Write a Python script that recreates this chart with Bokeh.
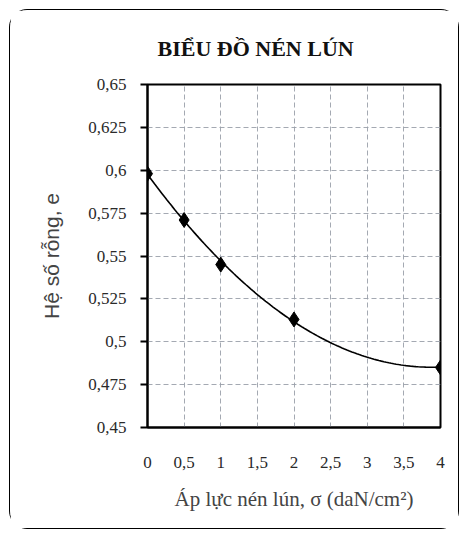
import numpy as np
from bokeh.plotting import figure
from bokeh.models import FixedTicker, CustomJSTickFormatter
from bokeh.embed import file_html
from bokeh.resources import INLINE

# data
sigma = [0, 0.5, 1, 2, 4]
void_ratio = [0.598, 0.571, 0.545, 0.513, 0.485]
x_ticks = [0, 0.5, 1, 1.5, 2, 2.5, 3, 3.5, 4]
y_ticks = [0.45, 0.475, 0.5, 0.525, 0.55, 0.575, 0.6, 0.625, 0.65]

title_text = "BIỂU ĐỒ NÉN LÚN"
x_label = "Áp lực nén lún, σ (daN/cm²)"
y_label = "Hệ số rỗng, e"

# 2nd order trendline through the measured points
coef = np.polyfit(sigma, void_ratio, 2)
xs = np.linspace(min(sigma), max(sigma), 120)
ys = np.polyval(coef, xs)

p = figure(width=450, height=520, output_backend="svg", toolbar_location=None,
           x_range=(0, 4), y_range=(0.45, 0.65),
           min_border_left=137, min_border_right=20, min_border_top=73, min_border_bottom=103,
           title=title_text)

p.styles = {"border": "1.5px solid black", "border-radius": "18px", "margin": "9px 0 0 9px"}

p.title.text_font = "Liberation Serif"
p.title.text_font_size = "22px"
p.title.text_font_style = "bold"
p.title.text_color = "#111111"
p.title.align = "left"
p.title.offset = 10
p.title.standoff = 47

p.outline_line_color = "black"
p.outline_line_width = 2
p.outline_line_alpha = 1

fmt = CustomJSTickFormatter(code="return tick.toString().replace('.', ',');")

xa = p.xaxis[0]
xa.ticker = FixedTicker(ticks=x_ticks)
xa.formatter = fmt
xa.axis_line_color = "black"
xa.axis_line_width = 2
xa.major_tick_out = 0
xa.major_tick_in = 0
xa.minor_tick_out = 0
xa.minor_tick_in = 0
xa.major_label_standoff = 29
xa.major_label_text_font = "Liberation Serif"
xa.major_label_text_font_size = "17px"
xa.major_label_text_color = "#2a2a2a"
xa.axis_label = x_label
xa.axis_label_text_font = "Liberation Serif"
xa.axis_label_text_font_size = "21px"
xa.axis_label_text_font_style = "normal"
xa.axis_label_standoff = 16

ya = p.yaxis[0]
ya.ticker = FixedTicker(ticks=y_ticks)
ya.formatter = fmt
ya.axis_line_color = "black"
ya.axis_line_width = 2
ya.major_tick_out = 7
ya.major_tick_in = 0
ya.major_tick_line_width = 2
ya.minor_tick_out = 0
ya.minor_tick_in = 0
ya.major_label_standoff = 14
ya.major_label_text_font = "Liberation Serif"
ya.major_label_text_font_size = "17px"
ya.major_label_text_color = "#2a2a2a"
ya.axis_label = y_label
ya.axis_label_text_font = "Liberation Sans"
ya.axis_label_text_font_size = "21px"
ya.axis_label_text_font_style = "normal"
ya.axis_label_standoff = 22

for g in (p.xgrid[0], p.ygrid[0]):
    g.grid_line_color = "#9aa0aa"
    g.grid_line_dash = "5 3"
    g.grid_line_width = 1
    g.grid_line_alpha = 0.9

p.line(xs, ys, line_color="black", line_width=1.6)
p.scatter(sigma, void_ratio, marker="diamond", size=15, fill_color="black", line_color="black")

open("out.html", "w").write(file_html(p, INLINE))
